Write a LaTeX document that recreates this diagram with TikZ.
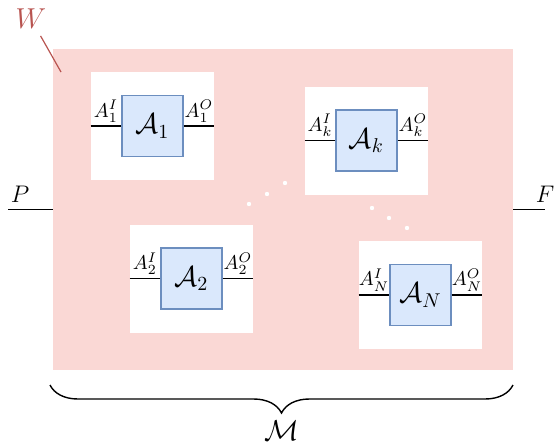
\documentclass[tikz,border=0pt]{standalone}
\usepackage{amsmath,amssymb}
\definecolor{wpink}{RGB}{250,216,213}
\definecolor{wred}{RGB}{184,84,80}
\definecolor{ablue}{RGB}{218,232,252}
\definecolor{abluedraw}{RGB}{108,142,191}
\usetikzlibrary{positioning,calc,decorations.pathreplacing}

\begin{document}
\begin{tikzpicture}[x=0.5pt, y=-0.5pt,
  world/.style={fill=wpink, minimum width=230pt, minimum height=160.5pt, inner sep=0pt},
  slot/.style={fill=white, minimum width=61.5pt, minimum height=54pt, inner sep=0pt},
  agent/.style={draw=abluedraw, fill=ablue, line width=0.6pt,
    minimum width=30.5pt, minimum height=30.5pt, inner sep=0pt, font=\Large},
  wire/.style={line width=0.8pt},
  port/.style={above, inner sep=1.5pt}]

\useasboundingbox (0,0) rectangle (558,445);

% the world W
\node[world] (W) at (283,209.5) {};
\node[wred, font=\Large] (Wlbl) at (31,19) {$W$};
\coordinate (Wtip) at (61,72);
\draw[wred, line width=0.6pt] (Wlbl) -- (Wtip);

% agent slots
\node[slot] (s1) at (152.5,126) {};
\node[slot] (sk) at (366.5,140.5) {};
\node[slot] (s2) at (191.5,278.5) {};
\node[slot] (sN) at (420.5,295) {};

\node[agent] (a1) at (s1) {$\mathcal{A}_1$};
\node[agent] (ak) at (sk) {$\mathcal{A}_k$};
\node[agent] (a2) at (s2) {$\mathcal{A}_2$};
\node[agent] (aN) at (sN) {$\mathcal{A}_N$};

% input and output wires
\foreach \i in {1,k,2,N} {
  \draw[wire] (s\i.west) -- (a\i.west) node[port, midway] {$A_{\i}^{I}$};
  \draw[wire] (a\i.east) -- (s\i.east) node[port, midway] {$A_{\i}^{O}$};
}

% dots
\foreach \p in {(249,204),(267,194),(285,183),(372,208),(389,218),(407,228)}
  \fill[white] \p circle (2.2);

% past and future
\coordinate (Pend) at (8,209.5);
\coordinate (Fend) at (545,209.5);
\draw[wire] (Pend) -- (W.west) node[pos=0.27, above, font=\large] {$P$};
\draw[wire] (W.east) -- (Fend) node[at end, above, font=\large] {$F$};

% brace
\coordinate (Ml) at (50,385);
\coordinate (Mr) at (513,385);
\draw[decorate, decoration={brace, mirror, amplitude=14pt}, line width=0.7pt]
  (Ml) -- (Mr) node[midway, below=14pt, font=\Large] (Mlbl) {$\mathcal{M}$};

\end{tikzpicture}
\end{document}
